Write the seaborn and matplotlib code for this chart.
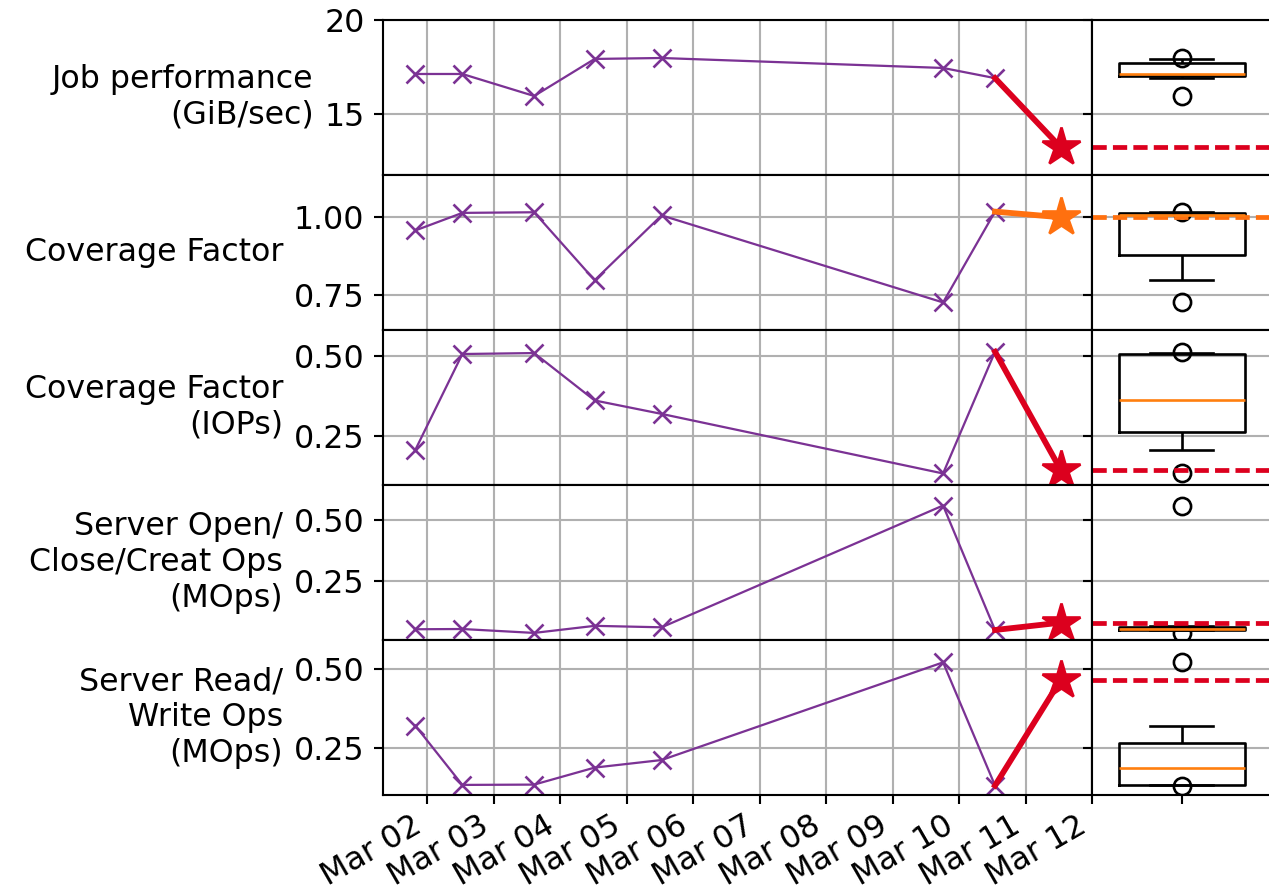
import pandas as pd
import matplotlib
matplotlib.use("Agg")
import matplotlib.pyplot as plt
import matplotlib.dates as mdates
import seaborn as sns

plt.rcParams.update({'font.size': 12})

# previous jobs and the new job
times = pd.to_datetime(["2020-03-01 19:48", "2020-03-02 12:45", "2020-03-03 14:40",
                        "2020-03-04 12:30", "2020-03-05 12:40", "2020-03-09 18:15",
                        "2020-03-10 13:00"])
new_time = pd.Timestamp("2020-03-11 12:40")

labels = ["Job performance\n(GiB/sec)", "Coverage Factor", "Coverage Factor\n(IOPs)",
          "Server Open/\nClose/Creat Ops\n(MOps)", "Server Read/\nWrite Ops\n(MOps)"]

perf = [17.13, 17.13, 15.96, 17.93, 17.98, 17.45, 16.91]
cov = [0.956, 1.012, 1.014, 0.797, 1.004, 0.726, 1.016]
cov_iops = [0.207, 0.506, 0.509, 0.361, 0.319, 0.133, 0.513]
meta_ops = [0.052, 0.053, 0.037, 0.066, 0.060, 0.559, 0.049]
rw_ops = [0.320, 0.132, 0.133, 0.187, 0.211, 0.521, 0.130]
series = [perf, cov, cov_iops, meta_ops, rw_ops]

new_vals = [13.24, 0.998, 0.145, 0.079, 0.465]
anomaly = [True, False, True, True, True]

yticks = [[15, 20], [0.75, 1.00], [0.25, 0.50], [0.25, 0.50], [0.25, 0.50]]
ytick_labels = [["15", "20"], ["0.75", "1.00"], ["0.25", "0.50"], ["0.25", "0.50"], ["0.25", "0.50"]]
ylims = [(11.76, 20.0), (0.638, 1.133), (0.097, 0.581), (0.008, 0.643), (0.100, 0.592)]

purple = '#7b3294'
red = '#dc001e'
orange = '#ff700f'

fig, axes = plt.subplots(
    5, 2, figsize=(1269 / 190, 890 / 190), dpi=190, sharex='col', sharey='row',
    gridspec_kw=dict(width_ratios=[709, 180], hspace=0, wspace=0,
                     left=383 / 1269, right=1272 / 1269,
                     top=1 - 20 / 890, bottom=1 - 795 / 890))

for i, vals in enumerate(series):
    ax, axb = axes[i]
    c = red if anomaly[i] else orange

    df = pd.DataFrame({'time': times, 'value': vals})
    sns.lineplot(data=df, x='time', y='value', ax=ax, color=purple, lw=0.85,
                 marker='x', markersize=6.8, markeredgecolor=purple, markeredgewidth=1)
    seg = pd.DataFrame({'time': [times[-1], new_time], 'value': [vals[-1], new_vals[i]]})
    sns.lineplot(data=seg, x='time', y='value', ax=ax, color=c, lw=2.2)
    ax.plot(new_time, new_vals[i], marker='*', ms=15, color=c, ls='none')

    ax.grid(True)
    ax.set_yticks(yticks[i])
    ax.set_yticklabels(ytick_labels[i])
    ax.set_ylim(ylims[i])
    ax.set_xlabel('')
    ax.set_ylabel(labels[i], rotation=0, ha='right', va='center')

    sns.boxplot(y=vals, ax=axb, whis=(5, 95), fill=False, color='black', width=0.7,
                linewidth=1, fliersize=6.5,
                medianprops=dict(color='#ff7f0e'),
                flierprops=dict(marker='o', markerfacecolor='none', markeredgecolor='black'))
    axb.axhline(new_vals[i], color=c, ls=(0, (3.0, 1.3)), lw=1.8)
    axb.set_xlim(-0.5, 0.5)
    axb.grid(True, axis='y')
    axb.grid(False, axis='x')
    axb.set_ylabel('')
    axb.tick_params(labelleft=False)

bottom = axes[-1][0]
bottom.xaxis.set_major_locator(mdates.DayLocator())
bottom.xaxis.set_major_formatter(mdates.DateFormatter('%b %d'))
bottom.set_xlim(pd.Timestamp("2020-03-01 08:07"), pd.Timestamp("2020-03-12"))
bottom.tick_params(axis='x', pad=2.2)
plt.setp(bottom.get_xticklabels(), rotation=30, ha='right')

axes[-1][1].set_xticks([0])
axes[-1][1].set_xticklabels([''])

fig.savefig('out.png', dpi=190)
